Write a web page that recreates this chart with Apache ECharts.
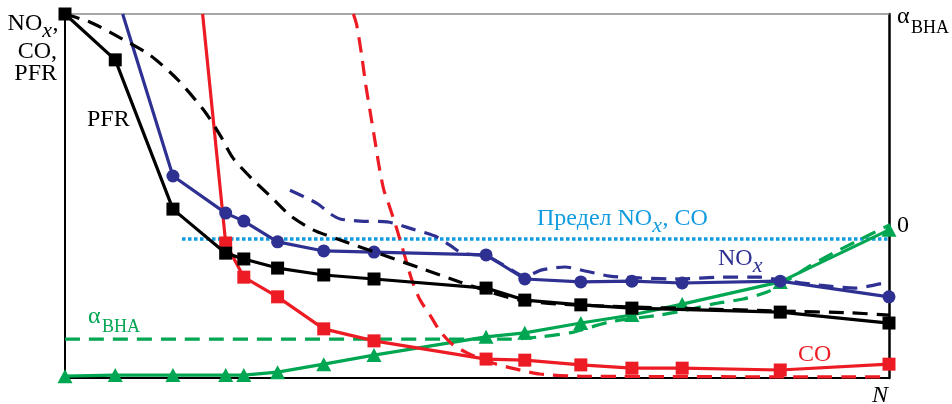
<!DOCTYPE html>
<html><head><meta charset="utf-8">
<script src="https://cdn.jsdelivr.net/npm/echarts@6/dist/echarts.min.js"></script>
<style>html,body{margin:0;padding:0;background:#fff}#c{width:952px;height:404px}</style>
</head><body><div id="c"></div>
<script>
// ---- data (x: N, relative 0..100; y: relative 0..100) ----
const pfrX = [0, 6.1, 13.1, 19.5, 21.7, 25.8, 31.4, 37.5, 51.1, 55.8, 62.6, 68.8, 86.8, 100];
const pfrY = [100, 87.4, 46.4, 34.3, 32.7, 30.2, 28.3, 27.2, 24.7, 21.4, 20.1, 19.2, 18.1, 15.1];

const pfrModelX = [0, 3.0, 6.1, 10.3, 13.7, 17.0, 18.8, 20.4, 22.7, 24.9, 27.4, 30.1, 33.4, 37.6, 43.1, 47.9, 51.9, 55.2, 60.1, 68.8, 77.1, 86.8, 95.3, 100];
const pfrModelY = [100, 97.8, 94.2, 88.7, 81.9, 73.1, 66.8, 60.4, 54.7, 50.0, 44.5, 40.7, 37.9, 34.6, 30.2, 26.4, 23.4, 21.4, 20.3, 19.5, 19.0, 18.4, 17.9, 17.3];

const noxX = [7.0, 13.1, 19.5, 21.7, 25.8, 31.4, 37.5, 51.1, 55.8, 62.6, 68.8, 74.9, 86.8, 100];
const noxY = [100, 55.5, 45.3, 43.1, 37.4, 34.9, 34.6, 33.8, 27.2, 26.4, 26.6, 26.1, 26.6, 22.3];

const noxModelX = [27.3, 29.1, 30.7, 32.2, 33.4, 35.8, 39.1, 42.2, 44.9, 46.7, 48.2, 51.1, 53.4, 55.8, 57.9, 60.7, 63.1, 66.1, 69.8, 74.6, 79.5, 84.3, 86.9, 91.6, 95.9, 97.7, 100];
const noxModelY = [51.6, 49.7, 47.8, 45.1, 43.7, 43.1, 42.9, 40.9, 39.0, 36.5, 34.3, 33.5, 30.8, 28.0, 29.7, 30.5, 29.4, 28.0, 27.5, 27.2, 27.7, 27.7, 26.9, 25.5, 24.7, 25.3, 26.4];

const coX = [16.7, 19.5, 21.7, 25.8, 31.4, 37.5, 51.1, 55.8, 62.6, 68.8, 74.9, 86.8, 100];
const coY = [100, 37.1, 27.7, 22.3, 13.5, 10.2, 5.2, 4.9, 3.6, 2.7, 2.7, 2.2, 3.8];

const coModelX = [35.0, 35.4, 36.0, 36.5, 37.0, 37.6, 38.2, 38.7, 39.4, 40.3, 41.3, 42.1, 43.1, 44.3, 45.5, 47.0, 48.8, 51.9, 55.2, 57.6, 62.5, 100];
const coModelY = [100, 97.0, 88.7, 80.5, 73.6, 65.4, 57.1, 51.6, 47.0, 40.7, 33.0, 26.9, 21.4, 17.3, 12.9, 9.3, 6.9, 4.1, 2.2, 1.1, 0.5, 0.3];

const alphaX = [0, 6.1, 13.1, 19.5, 21.7, 25.8, 31.4, 37.5, 51.1, 55.8, 62.6, 68.8, 74.9, 86.8, 100];
const alphaY = [0.5, 0.8, 0.8, 0.8, 0.8, 1.6, 3.8, 6.3, 11.3, 12.4, 15.1, 17.3, 20.3, 26.4, 40.7];

const alphaModelX = [0, 54.0, 57.6, 61.7, 66.1, 72.2, 75.5, 78.6, 82.3, 85.2, 87.4, 90.4, 93.2, 96.1, 100];
const alphaModelY = [10.7, 10.7, 11.3, 12.6, 15.4, 17.3, 18.7, 20.3, 21.7, 23.6, 26.4, 30.8, 34.3, 37.6, 42.0];

const limitX = [14.2, 100];
const limitY = [38.2, 38.2];

// ---- styling ----
const BLACK = '#000000', NAVY = '#2e3192', RED = '#ed1c24', GREEN = '#00a651', SKY = '#129ce0';
const SERIF = '"Liberation Serif","DejaVu Serif",serif';

function pts(xs, ys, noMarkFirst) {
  return xs.map((x, i) => (noMarkFirst && i === 0) ? {value: [x, ys[i]], symbol: 'none'} : [x, ys[i]]);
}
function measured(xs, ys, color, symbol, size, noMarkFirst, z) {
  return {
    type: 'line', data: pts(xs, ys, noMarkFirst), symbol: symbol, symbolSize: size,
    showSymbol: true, z: z,
    lineStyle: {color: color, width: 3.2}, itemStyle: {color: color},
    emphasis: {disabled: true}, silent: true
  };
}
function model(xs, ys, color, z) {
  return {
    type: 'line', data: pts(xs, ys), symbol: 'none', smooth: 0.25, z: z,
    lineStyle: {color: color, width: 3.2, type: [15, 9]},
    emphasis: {disabled: true}, silent: true
  };
}
const hiddenAxisBits = {axisTick: {show: false}, axisLabel: {show: false}, splitLine: {show: false}};

const mctx = document.createElement('canvas').getContext('2d');
function fontOf(size, italic) { return (italic ? 'italic ' : '') + size + 'px ' + SERIF; }
function widthOf(text, size, italic) { mctx.font = fontOf(size, italic); return mctx.measureText(text).width; }

function plain(x, y, text, color, size, align, italic) {
  return {type: 'text', x: x, y: y, silent: true,
    style: {text: text, fill: color, align: align, verticalAlign: 'middle', font: fontOf(size, italic)}};
}
// pieces: [text, italicSub]; laid out left to right from x
function composite(x, y, pieces, color, align) {
  const widths = pieces.map(p => widthOf(p[0], p[1] ? 22 : 24, p[1]));
  const total = widths.reduce((a, b) => a + b, 0);
  let cx = align === 'right' ? x - total : x;
  const out = [];
  pieces.forEach((p, i) => {
    out.push(plain(cx, p[1] ? y + 7.5 : y, p[0], color, p[1] ? 22 : 24, 'left', p[1]));
    cx += widths[i] + (p[1] ? 0.5 : 0);
  });
  return out;
}

const chart = echarts.init(document.getElementById('c'), null, {renderer: 'canvas'});
chart.setOption({
  animation: false,
  backgroundColor: '#ffffff',
  grid: {left: 65, right: 63, top: 14, bottom: 26},
  xAxis: [
    Object.assign({type: 'value', min: 0, max: 100, position: 'bottom',
      axisLine: {show: true, onZero: false, lineStyle: {color: BLACK, width: 2}}}, hiddenAxisBits),
    Object.assign({type: 'value', min: 0, max: 100, position: 'top',
      axisLine: {show: true, onZero: false, lineStyle: {color: '#8a8a8a', width: 1.5}}}, hiddenAxisBits)
  ],
  yAxis: [
    Object.assign({type: 'value', min: 0, max: 100, position: 'left',
      axisLine: {show: true, onZero: false, lineStyle: {color: BLACK, width: 2}}}, hiddenAxisBits),
    Object.assign({type: 'value', min: 0, max: 100, position: 'right',
      axisLine: {show: true, onZero: false, lineStyle: {color: BLACK, width: 2.5}}}, hiddenAxisBits)
  ],
  series: [
    {type: 'line', data: pts(limitX, limitY), symbol: 'none', z: 1,
      lineStyle: {color: SKY, width: 3.5, type: [3.5, 2.5]}, silent: true},
    model(alphaModelX, alphaModelY, GREEN, 2),
    measured(alphaX, alphaY, GREEN, 'triangle', [15, 14], false, 3),
    model(coModelX, coModelY, RED, 4),
    measured(coX, coY, RED, 'rect', 13, true, 5),
    model(noxModelX, noxModelY, NAVY, 6),
    measured(noxX, noxY, NAVY, 'circle', 13, true, 7),
    model(pfrModelX, pfrModelY, BLACK, 8),
    measured(pfrX, pfrY, BLACK, 'rect', 13, false, 9)
  ],
  graphic: [].concat(
    composite(58, 23.5, [['NO', false], ['x', true], [',', false]], BLACK, 'right'),
    [
      plain(57, 51.5, 'CO,', BLACK, 24, 'right'),
      plain(57, 74, 'PFR', BLACK, 24, 'right'),
      plain(87, 120, 'PFR', BLACK, 24, 'left'),
      plain(897, 16.5, 'α', BLACK, 24, 'left'),
      plain(911, 28, 'BHA', BLACK, 18, 'left'),
      plain(897, 226, '0', BLACK, 24, 'left')
    ],
    composite(537, 218.5, [['Предел NO', false], ['x', true], [', CO', false]], SKY, 'left'),
    composite(718, 258.5, [['NO', false], ['x', true]], NAVY, 'left'),
    [
      plain(798, 354.5, 'CO', RED, 24, 'left'),
      plain(88, 316.5, 'α', GREEN, 24, 'left'),
      plain(102, 327.5, 'BHA', GREEN, 18, 'left'),
      plain(888, 396, 'N', BLACK, 24, 'right', true)
    ]
  )
});
</script></body></html>
